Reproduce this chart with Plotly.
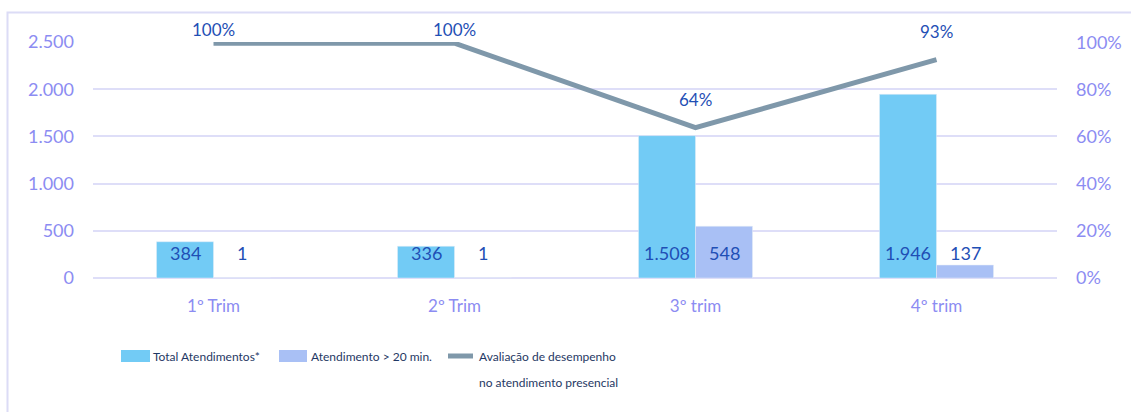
import plotly.graph_objects as go

categories = ["1º Trim", "2º Trim", "3º trim", "4º trim"]
total_atend = [384, 336, 1508, 1946]
atend_20 = [1, 1, 548, 137]
avaliacao = [1.00, 1.00, 0.64, 0.93]
series_names = ["Total Atendimentos*", "Atendimento > 20 min.",
                "Avaliação de desempenho<br>no atendimento presencial"]
y_ticks = [0, 500, 1000, 1500, 2000, 2500]
y2_ticks = [0, 0.2, 0.4, 0.6, 0.8, 1.0]

C_TOTAL = "#72CBF5"
C_20 = "#A9C0F5"
C_LINE = "#7F98AA"
C_GRID = "#DEDEF8"
C_TICK = "#8C8CF2"
C_LABEL = "#1F4FB5"
C_LEG = "#1F3864"
FONT = "Lato"

W, H = 1131, 412
L, R, T, B = 93, 74, 42, 134
PW, PH = W - L - R, H - T - B
Y2MAX = 1.005


def px2x(px):
    return (px - L) / PW


def px2y(py):
    return (H - B - py) / PH


def fmt(v):
    return f"{v:,}".replace(",", ".")


fig = go.Figure()
fig.add_trace(go.Bar(x=categories, y=total_atend, name=series_names[0],
                     marker_color=C_TOTAL, showlegend=False, hoverinfo="skip"))
fig.add_trace(go.Bar(x=categories, y=atend_20, name=series_names[1],
                     marker_color=C_20, showlegend=False, hoverinfo="skip"))
fig.add_trace(go.Scatter(x=categories, y=avaliacao, yaxis="y2", name=series_names[2],
                         mode="lines", line=dict(color=C_LINE, width=5),
                         cliponaxis=False, showlegend=False, hoverinfo="skip"))

# line value labels above the points (kept inside the chart area at the top)
for c, v in zip(categories, avaliacao):
    point_px = T + PH * (1 - v / Y2MAX)
    shift = min(28, point_px - 30)
    fig.add_annotation(x=c, y=v, xref="x", yref="y2", text=f"{round(v*100)}%",
                       showarrow=False, yanchor="middle", yshift=shift,
                       font=dict(family=FONT, size=17, color=C_LABEL))

# bar value labels at the base of each bar
for i, c in enumerate(categories):
    for vals, shift in ((total_atend, -28.5), (atend_20, 28.5)):
        fig.add_annotation(x=c, y=0, xref="x", yref="y", text=fmt(vals[i]),
                           showarrow=False, xshift=shift, yanchor="middle", yshift=25,
                           font=dict(family=FONT, size=18, color=C_LABEL))

# custom legend
LEGF = dict(family=FONT, size=12, color=C_LEG)
fig.add_shape(type="rect", xref="paper", yref="paper", x0=px2x(121), x1=px2x(150),
              y0=px2y(362), y1=px2y(350), fillcolor=C_TOTAL, line_width=0)
fig.add_annotation(xref="paper", yref="paper", x=px2x(151), y=px2y(356), text=series_names[0],
                   showarrow=False, xanchor="left", yanchor="middle", font=LEGF)
fig.add_shape(type="rect", xref="paper", yref="paper", x0=px2x(279), x1=px2x(307),
              y0=px2y(362), y1=px2y(350), fillcolor=C_20, line_width=0)
fig.add_annotation(xref="paper", yref="paper", x=px2x(309), y=px2y(356), text=series_names[1],
                   showarrow=False, xanchor="left", yanchor="middle", font=LEGF)
fig.add_shape(type="line", xref="paper", yref="paper", x0=px2x(448), x1=px2x(473),
              y0=px2y(356), y1=px2y(356), line=dict(color=C_LINE, width=5))
for k, part in enumerate(series_names[2].split("<br>")):
    fig.add_annotation(xref="paper", yref="paper", x=px2x(477), y=px2y(356 + 26 * k),
                       text=part, showarrow=False, xanchor="left", yanchor="middle", font=LEGF)

# chart border
fig.add_shape(type="rect", xref="paper", yref="paper", x0=px2x(7.5), x1=px2x(1145),
              y0=px2y(430), y1=px2y(12.5), line=dict(color="#DCDCF6", width=2),
              fillcolor="rgba(0,0,0,0)", layer="below")

fig.update_layout(
    width=W, height=H,
    margin=dict(l=L, r=R, t=T, b=B, pad=0, autoexpand=False),
    paper_bgcolor="white", plot_bgcolor="white",
    barmode="group", bargap=0.527, bargroupgap=0,
    showlegend=False,
    font=dict(family=FONT, size=17, color=C_TICK),
    xaxis=dict(tickfont=dict(family=FONT, size=17, color=C_TICK), showgrid=False,
               showline=False, ticks="", ticklabelstandoff=16, fixedrange=True),
    yaxis=dict(range=[0, 2500], tickvals=y_ticks, ticktext=[fmt(v) for v in y_ticks],
               tickfont=dict(family=FONT, size=18, color=C_TICK),
               gridcolor=C_GRID, gridwidth=1.5, zeroline=True, zerolinecolor=C_GRID,
               zerolinewidth=1.5, showline=False, ticks="", ticklabelstandoff=18),
    yaxis2=dict(range=[0, Y2MAX], overlaying="y", side="right", tickvals=y2_ticks,
                ticktext=[f"{round(v*100)}%" for v in y2_ticks],
                tickfont=dict(family=FONT, size=18, color=C_TICK),
                showgrid=False, zeroline=False, showline=False, ticks="",
                ticklabelstandoff=18),
)

fig.write_html("out.html", config={"displayModeBar": False},
               post_script="document.body.style.margin='0';document.body.style.padding='0';")
